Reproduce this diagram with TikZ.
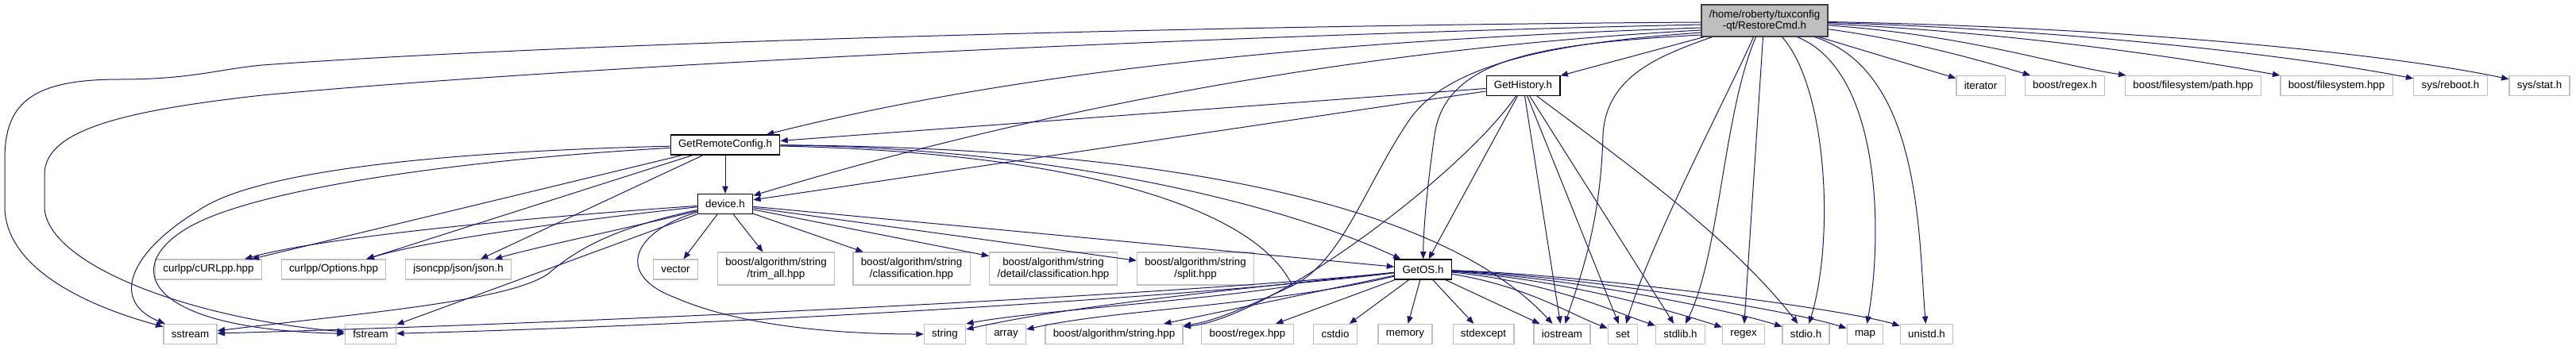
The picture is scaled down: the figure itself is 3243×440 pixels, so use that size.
\documentclass[tikz,border=0pt]{standalone}
\usepackage{fontspec}
\setmainfont{Liberation Sans}
\usetikzlibrary{arrows.meta,calc}
\definecolor{edgec}{HTML}{191970}
\definecolor{leafc}{HTML}{BFBFBF}
\begin{document}
\begin{tikzpicture}[x=0.75pt,y=-0.75pt,
  base/.style={draw, rectangle, font=\fontsize{10}{10.8}\selectfont, inner xsep=7.4pt, inner ysep=0pt, minimum height=18.75pt, line width=0.9pt, align=center},
  leaf/.style={base, draw=leafc, fill=white},
  main/.style={base, draw=black, fill=white},
  root/.style={base, draw=black!75, fill=leafc, minimum height=30pt},
  two/.style={minimum height=30.75pt},
  e/.style={draw=edgec, line width=0.75pt, -{Triangle[length=7pt,width=5.5pt]}}
]
\useasboundingbox (0,0) rectangle (3243,440);
\fill[white] (0,0) rectangle (3243,440);

% nodes
\node[root] (R) at (2221.5,26) {/home/roberty/tuxconfig\\-qt/RestoreCmd.h};
\node[main] (GH) at (1917.5,108) {GetHistory.h};
\node[main] (GRC) at (913,182.5) {GetRemoteConfig.h};
\node[main] (dev) at (913,257) {device.h};
\node[main] (GOS) at (1791.5,339.5) {GetOS.h};

\node[leaf] (iter) at (2493.5,108) {iterator};
\node[leaf] (bregexh) at (2599.5,108) {boost/regex.h};
\node[leaf] (fspath) at (2761,108) {boost/filesystem/path.hpp};
\node[leaf] (fs) at (2941.5,108) {boost/filesystem.hpp};
\node[leaf] (reboot) at (3085,108) {sys/reboot.h};
\node[leaf] (stat) at (3197,108) {sys/stat.h};

\node[leaf] (curl) at (262.5,339.5) {curlpp/cURLpp.hpp};
\node[leaf] (opts) at (420,339.5) {curlpp/Options.hpp};
\node[leaf] (json) at (577,339.5) {jsoncpp/json/json.h};
\node[leaf] (vec) at (850.5,339.5) {vector};
\node[leaf,two] (trim) at (977,338.5) {boost/algorithm/string\\/trim\_all.hpp};
\node[leaf,two] (cls) at (1147.5,338.5) {boost/algorithm/string\\/classification.hpp};
\node[leaf,two] (dcls) at (1326,338.5) {boost/algorithm/string\\/detail/classification.hpp};
\node[leaf,two] (split) at (1505,338.5) {boost/algorithm/string\\/split.hpp};

\node[leaf] (sstr) at (239.5,421) {sstream};
\node[leaf] (fstr) at (466.5,421) {fstream};
\node[leaf] (str) at (1189.5,421) {string};
\node[leaf] (arr) at (1266.5,421) {array};
\node[leaf] (bstr) at (1402.5,421) {boost/algorithm/string.hpp};
\node[leaf] (bregex) at (1570.5,421) {boost/regex.hpp};
\node[leaf] (cstdio) at (1681,421) {cstdio};
\node[leaf] (mem) at (1769,421) {memory};
\node[leaf] (stdexc) at (1867.5,421) {stdexcept};
\node[leaf] (ios) at (1966.5,421) {iostream};
\node[leaf] (set) at (2043,421) {set};
\node[leaf] (stdlib) at (2115.5,421) {stdlib.h};
\node[leaf] (regex) at (2195,421) {regex};
\node[leaf] (stdio) at (2273.5,421) {stdio.h};
\node[leaf] (map) at (2348,421) {map};
\node[leaf] (unistd) at (2425.5,421) {unistd.h};

% RestoreCmd.h edges
\draw[e] ($(R.west)+(0,2)$) .. controls (1500,32) and (700,55) .. (330,82) .. controls (270,88) and (240,100) .. (150,100) .. controls (40,100) and (6,130) .. (6,200) -- (6,260) .. controls (6,330) and (90,380) .. (sstr);
\draw[e] ($(R.west)+(0,5)$) .. controls (1500,45) and (700,85) .. (330,120) .. controls (150,140) and (56,165) .. (56,220) -- (56,260) .. controls (56,330) and (230,400) .. (fstr);
\draw[e] ($(R.west)+(0,9)$) .. controls (1700,50) and (1300,85) .. (GRC);
\draw[e] ($(R.west)+(0,12)$) .. controls (1700,62) and (1300,140) .. (dev);
\draw[e] ($(R.west)+(0,15)$) .. controls (1990,52) and (1830,72) .. (1775,150) .. controls (1720,230) and (1690,330) .. (1627,360) .. controls (1580,382) and (1530,405) .. (bstr);
\draw[e] ($(R.west)+(0,18)$) .. controls (1950,55) and (1820,70) .. (1806,170) .. controls (1796,240) and (1792,290) .. (GOS);
\draw[e] (R) -- (GH);
\draw[e] ($(R.south west)+(14,0)$) .. controls (2090,70) and (2022,95) .. (2018,170) .. controls (2015,290) and (1985,360) .. (ios);
\draw[e] ($(R.south)+(-14,0)$) .. controls (2175,120) and (2080,300) .. (set);
\draw[e] ($(R.south)+(-11,0)$) .. controls (2170,140) and (2165,320) .. (stdlib);
\draw[e] ($(R.south)+(-2,0)$) -- (regex);
\draw[e] ($(R.south)+(22,0)$) .. controls (2300,110) and (2310,300) .. (stdio);
\draw[e] ($(R.south)+(41,0)$) .. controls (2370,90) and (2370,300) .. (map);
\draw[e] ($(R.south)+(63,0)$) .. controls (2420,90) and (2415,300) .. (unistd);
\draw[e] (R) -- (iter);
\draw[e] (R) .. controls (2400,50) and (2490,75) .. (bregexh);
\draw[e] (R) .. controls (2480,45) and (2580,80) .. (fspath);
\draw[e] (R) .. controls (2550,42) and (2760,75) .. (fs);
\draw[e] (R) .. controls (2620,38) and (2900,72) .. (reboot);
\draw[e] (R) .. controls (2700,35) and (3020,70) .. (stat);

% GetHistory.h edges
\draw[e] (GH) -- (GRC);
\draw[e] (GH) -- (dev);
\draw[e] (GH) -- (GOS);
\draw[e] (GH) .. controls (1840,220) and (1600,400) .. (bstr);
\draw[e] (GH) -- (ios);
\draw[e] (GH) -- (set);
\draw[e] (GH) -- (stdlib);
\draw[e] (GH) .. controls (2040,200) and (2180,300) .. (stdio);

% GetRemoteConfig.h edges
\draw[e] (GRC) -- (dev);
\draw[e] (GRC) -- (curl);
\draw[e] (GRC) -- (opts);
\draw[e] (GRC) -- (json);
\draw[e] (GRC) .. controls (600,190) and (330,210) .. (250,265) .. controls (160,320) and (140,380) .. (sstr);
\draw[e] (GRC) .. controls (600,200) and (330,235) .. (240,285) .. controls (150,335) and (180,415) .. (fstr);
\draw[e] (GRC) .. controls (1300,185) and (1600,250) .. (GOS);
\draw[e] (GRC) .. controls (1400,185) and (1800,240) .. (ios);
\draw[e] (GRC) .. controls (1350,192) and (1580,260) .. (1627,360) .. controls (1500,380) and (1300,392) .. (str.north east);

% device.h edges
\draw[e] (dev) .. controls (650,275) and (400,300) .. (curl);
\draw[e] (dev) .. controls (700,280) and (530,305) .. (opts);
\draw[e] (dev) .. controls (780,290) and (680,310) .. (json);
\draw[e] (dev) .. controls (760,290) and (720,320) .. (690,345) .. controls (640,380) and (450,395) .. (sstr);
\draw[e] (dev) -- (fstr);
\draw[e] (dev) .. controls (800,290) and (770,345) .. (850,375) .. controls (930,410) and (1050,421) .. (str);
\draw[e] (dev) -- (vec);
\draw[e] (dev) -- (trim);
\draw[e] (dev) -- (cls);
\draw[e] (dev) -- (dcls);
\draw[e] (dev) -- (split);
\draw[e] (dev) -- (GOS);

% GetOS.h edges
\draw[e] (GOS) .. controls (1500,370) and (800,405) .. (sstr);
\draw[e] (GOS) .. controls (1500,375) and (900,410) .. (fstr);
\draw[e] (GOS) .. controls (1550,365) and (1350,385) .. (str);
\draw[e] (GOS) .. controls (1600,385) and (1400,390) .. (arr);
\draw[e] (GOS) -- (bstr);
\draw[e] (GOS) -- (bregex);
\draw[e] (GOS) -- (cstdio);
\draw[e] (GOS) -- (mem);
\draw[e] (GOS) -- (stdexc);
\draw[e] (GOS) -- (ios);
\draw[e] (GOS) .. controls (1920,360) and (1975,395) .. (set);
\draw[e] (GOS) .. controls (1950,355) and (2030,392) .. (stdlib);
\draw[e] (GOS) .. controls (1970,352) and (2105,392) .. (regex);
\draw[e] (GOS) .. controls (1980,350) and (2175,390) .. (stdio);
\draw[e] (GOS) .. controls (1990,348) and (2250,390) .. (map);
\draw[e] (GOS) .. controls (2000,346) and (2325,390) .. (unistd);
\end{tikzpicture}
\end{document}
